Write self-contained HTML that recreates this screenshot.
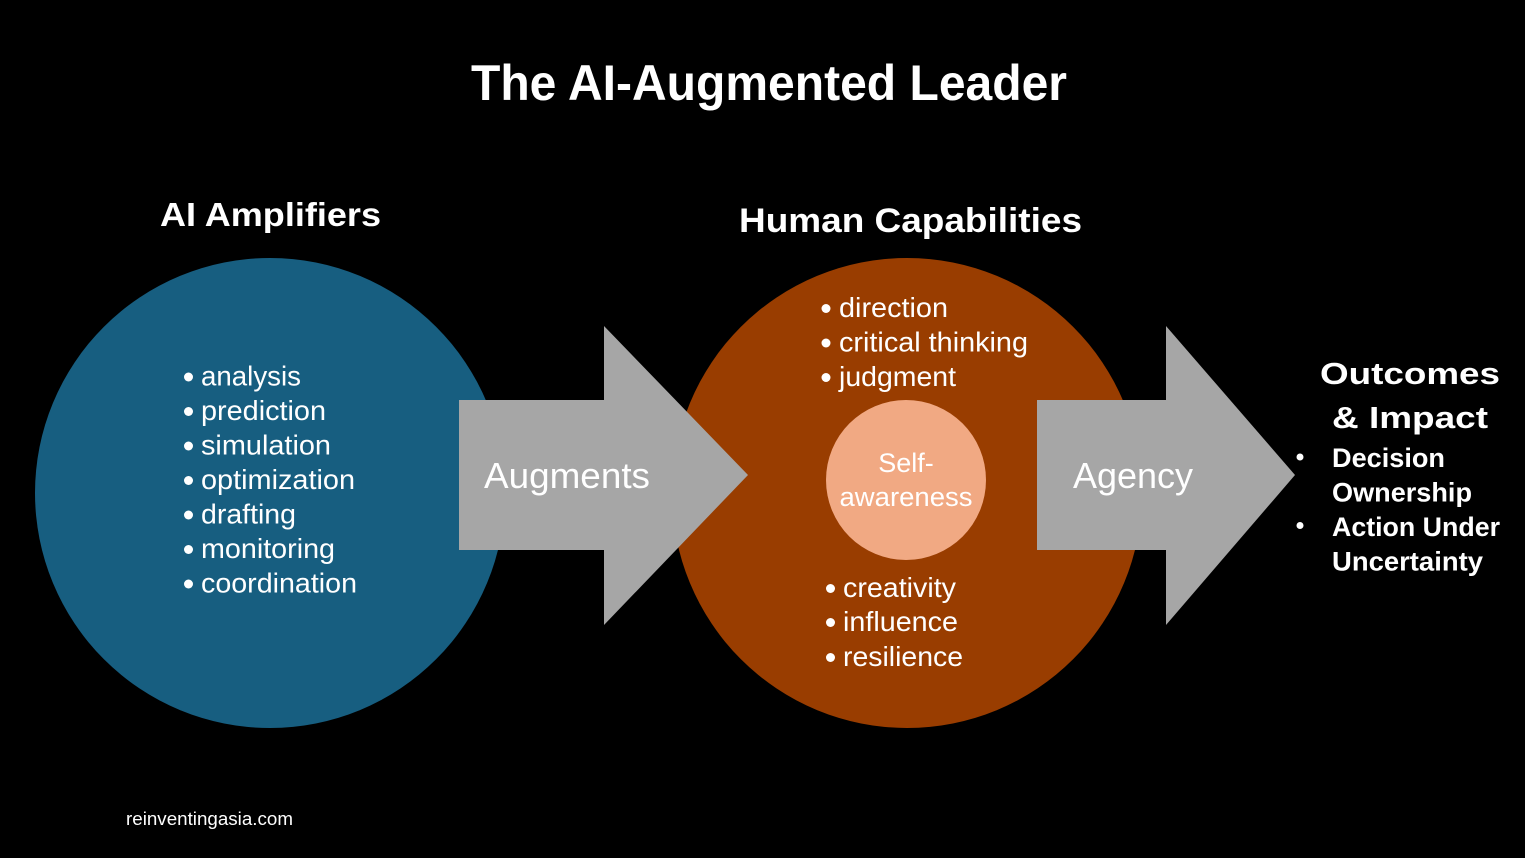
<!DOCTYPE html>
<html>
<head>
<meta charset="utf-8">
<style>
  html, body { margin:0; padding:0; background:#000; }
  body { width:1525px; height:858px; overflow:hidden; }
  svg { display:block; }
  text { font-family: "Liberation Sans", Arial, sans-serif; fill:#fff; }
  .b { font-weight:bold; }
</style>
</head>
<body>
<svg width="1525" height="858" viewBox="0 0 1525 858" xmlns="http://www.w3.org/2000/svg">
  <rect x="0" y="0" width="1525" height="858" fill="#000"/>

  <!-- Title -->
  <text class="b" x="471" y="100" font-size="50" textLength="596" lengthAdjust="spacingAndGlyphs">The AI-Augmented Leader</text>

  <!-- Section headings -->
  <text class="b" x="160" y="226" font-size="33" textLength="221" lengthAdjust="spacingAndGlyphs">AI Amplifiers</text>
  <text class="b" x="739" y="232" font-size="34" textLength="343" lengthAdjust="spacingAndGlyphs">Human Capabilities</text>

  <!-- Circles -->
  <circle cx="270" cy="493" r="235" fill="#175E80"/>
  <circle cx="907" cy="493" r="235" fill="#993D00"/>
  <circle cx="906" cy="480" r="80" fill="#F1A983"/>

  <!-- Arrows -->
  <polygon points="459,400 604,400 604,326 748,475 604,625 604,550 459,550" fill="#A6A6A6"/>
  <polygon points="1037,400 1166,400 1166,326 1295,475 1166,625 1166,550 1037,550" fill="#A6A6A6"/>

  <text x="484" y="488" font-size="36" textLength="166" lengthAdjust="spacingAndGlyphs">Augments</text>
  <text x="1073" y="488" font-size="36" textLength="120" lengthAdjust="spacingAndGlyphs">Agency</text>

  <!-- Blue list -->
  <g font-size="28">
    <circle cx="188.5" cy="377" r="4.5" fill="#fff"/><text x="201" y="385.5" textLength="100" lengthAdjust="spacingAndGlyphs">analysis</text>
    <circle cx="188.5" cy="411.5" r="4.5" fill="#fff"/><text x="201" y="420" textLength="125" lengthAdjust="spacingAndGlyphs">prediction</text>
    <circle cx="188.5" cy="446" r="4.5" fill="#fff"/><text x="201" y="454.5" textLength="130" lengthAdjust="spacingAndGlyphs">simulation</text>
    <circle cx="188.5" cy="480.5" r="4.5" fill="#fff"/><text x="201" y="489" textLength="154" lengthAdjust="spacingAndGlyphs">optimization</text>
    <circle cx="188.5" cy="515" r="4.5" fill="#fff"/><text x="201" y="523.5" textLength="95" lengthAdjust="spacingAndGlyphs">drafting</text>
    <circle cx="188.5" cy="549.5" r="4.5" fill="#fff"/><text x="201" y="558" textLength="134" lengthAdjust="spacingAndGlyphs">monitoring</text>
    <circle cx="188.5" cy="584" r="4.5" fill="#fff"/><text x="201" y="592.5" textLength="156" lengthAdjust="spacingAndGlyphs">coordination</text>
  </g>

  <!-- Orange top list -->
  <g font-size="28">
    <circle cx="826" cy="308.5" r="4.5" fill="#fff"/><text x="839" y="317" textLength="109" lengthAdjust="spacingAndGlyphs">direction</text>
    <circle cx="826" cy="343" r="4.5" fill="#fff"/><text x="839" y="351.5" textLength="189" lengthAdjust="spacingAndGlyphs">critical thinking</text>
    <circle cx="826" cy="377.5" r="4.5" fill="#fff"/><text x="839" y="386" textLength="117" lengthAdjust="spacingAndGlyphs">judgment</text>
  </g>

  <!-- Self-awareness -->
  <g font-size="27" text-anchor="middle">
    <text x="906" y="472">Self-</text>
    <text x="906" y="506" textLength="133" lengthAdjust="spacingAndGlyphs">awareness</text>
  </g>

  <!-- Orange bottom list -->
  <g font-size="28">
    <circle cx="830.5" cy="588.5" r="4.5" fill="#fff"/><text x="843" y="597" textLength="113" lengthAdjust="spacingAndGlyphs">creativity</text>
    <circle cx="830.5" cy="622.5" r="4.5" fill="#fff"/><text x="843" y="631" textLength="115" lengthAdjust="spacingAndGlyphs">influence</text>
    <circle cx="830.5" cy="657.5" r="4.5" fill="#fff"/><text x="843" y="666" textLength="120" lengthAdjust="spacingAndGlyphs">resilience</text>
  </g>

  <!-- Outcomes -->
  <text class="b" x="1320" y="384" font-size="31" textLength="180" lengthAdjust="spacingAndGlyphs">Outcomes</text>
  <text class="b" x="1332" y="428" font-size="31" textLength="156" lengthAdjust="spacingAndGlyphs">&amp; Impact</text>

  <circle cx="1300" cy="457" r="3.5" fill="#fff"/>
  <text class="b" x="1332" y="467" font-size="27" textLength="113" lengthAdjust="spacingAndGlyphs">Decision</text>
  <text class="b" x="1332" y="501.5" font-size="27" textLength="140" lengthAdjust="spacingAndGlyphs">Ownership</text>
  <circle cx="1300" cy="525.5" r="3.5" fill="#fff"/>
  <text class="b" x="1332" y="536" font-size="27" textLength="168" lengthAdjust="spacingAndGlyphs">Action Under</text>
  <text class="b" x="1332" y="570.5" font-size="27" textLength="151" lengthAdjust="spacingAndGlyphs">Uncertainty</text>

  <!-- Footer -->
  <text x="126" y="825" font-size="18" textLength="167" lengthAdjust="spacingAndGlyphs">reinventingasia.com</text>
</svg>
</body>
</html>
